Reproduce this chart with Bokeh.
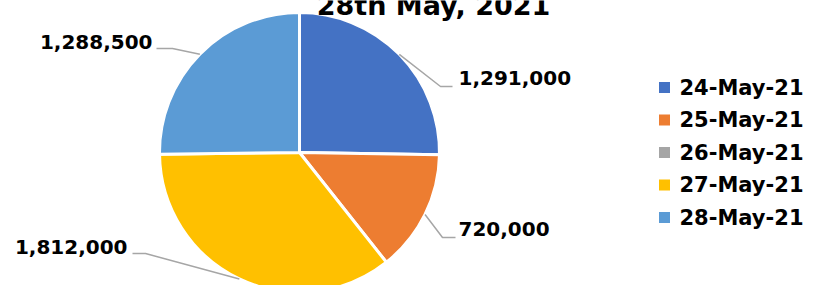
import numpy as np
from bokeh.plotting import figure
from bokeh.models import Range1d, ColumnDataSource
from bokeh.embed import file_html
from bokeh.resources import INLINE
from bokeh.core.properties import value

# ---------------- data ----------------
title_text = "28th May, 2021"
dates = ["24-May-21", "25-May-21", "26-May-21", "27-May-21", "28-May-21"]
counts = [1291000, 720000, 0, 1812000, 1288500]
colors = ["#4472C4", "#ED7D31", "#A5A5A5", "#FFC000", "#5B9BD5"]

# ---------------- layout (page pixels, y downward) ----------------
PAGE_W, PAGE_H = 813, 285
cx, cy, R = 299, 152, 140
FONT = value("DejaVu Sans")
# per-slice label layout: elbow_x, elbow_y, end_x, text_x, text_y, align
label_layout = {
    "24-May-21": (440, 86, 452, 458, 77, "left"),
    "25-May-21": (442, 237, 455, 458, 228, "left"),
    "27-May-21": (145, 253, 132, 127, 246, "right"),
    "28-May-21": (172, 48, 156, 152, 41, "right"),
}
legend_x, legend_top, legend_step = 664, 87, 32.5
title_x, title_y = 433, 5


def Y(y):
    return PAGE_H - y


p = figure(width=PAGE_W, height=PAGE_H,
           x_range=Range1d(0, PAGE_W), y_range=Range1d(0, PAGE_H),
           output_backend="svg", toolbar_location=None,
           x_axis_location=None, y_axis_location=None,
           min_border=0, outline_line_color=None,
           background_fill_color="white", border_fill_color="white")
p.xgrid.visible = False
p.ygrid.visible = False

vals = np.array(counts, dtype=float)
frac = vals / vals.sum()
cum_after = np.cumsum(frac)
cum_before = cum_after - frac
start = np.pi / 2 - 2 * np.pi * cum_before
end = np.pi / 2 - 2 * np.pi * cum_after

nz = vals > 0
src = ColumnDataSource(dict(start=start[nz], end=end[nz],
                            color=[c for c, k in zip(colors, nz) if k]))
p.wedge(x=cx, y=Y(cy), radius=R, start_angle="start", end_angle="end",
        direction="clock", fill_color="color", line_color="white",
        line_width=3, source=src)

# leader lines and data labels
xs, ys = [], []
lab = {"left": dict(x=[], y=[], t=[]), "right": dict(x=[], y=[], t=[])}
for d, v, s, e in zip(dates, counts, start, end):
    if v <= 0:
        continue
    mid = (s + e) / 2
    ex, ey = cx + R * np.cos(mid), Y(cy) + R * np.sin(mid)
    bx, by, endx, tx, ty, al = label_layout[d]
    xs.append([ex, bx, endx])
    ys.append([ey, Y(by), Y(by)])
    lab[al]["x"].append(tx)
    lab[al]["y"].append(Y(ty))
    lab[al]["t"].append(f"{v:,}")

p.multi_line(xs=xs, ys=ys, line_color="#A6A6A6", line_width=1.5)
for al, dd in lab.items():
    p.text(x=dd["x"], y=dd["y"], text=dd["t"], text_align=al,
           text_baseline="middle", text_font=FONT, text_font_style="bold",
           text_font_size="20px", text_color="black")

# title (partially cut at top as in reference)
p.text(x=[title_x], y=[Y(title_y)], text=[title_text], text_align="center",
       text_baseline="alphabetic", text_font=FONT, text_font_style="bold",
       text_font_size="27px", text_color="black")

# legend
ly = [Y(legend_top + i * legend_step) for i in range(len(dates))]
p.scatter(x=[legend_x] * len(dates), y=ly, marker="square", size=11,
          fill_color=colors, line_color=None)
p.text(x=[legend_x + 15] * len(dates), y=ly, text=dates, text_align="left",
       text_baseline="middle", text_font=FONT, text_font_style="bold",
       text_font_size="21px", text_color="black")

open("out.html", "w").write(file_html(p, INLINE))
